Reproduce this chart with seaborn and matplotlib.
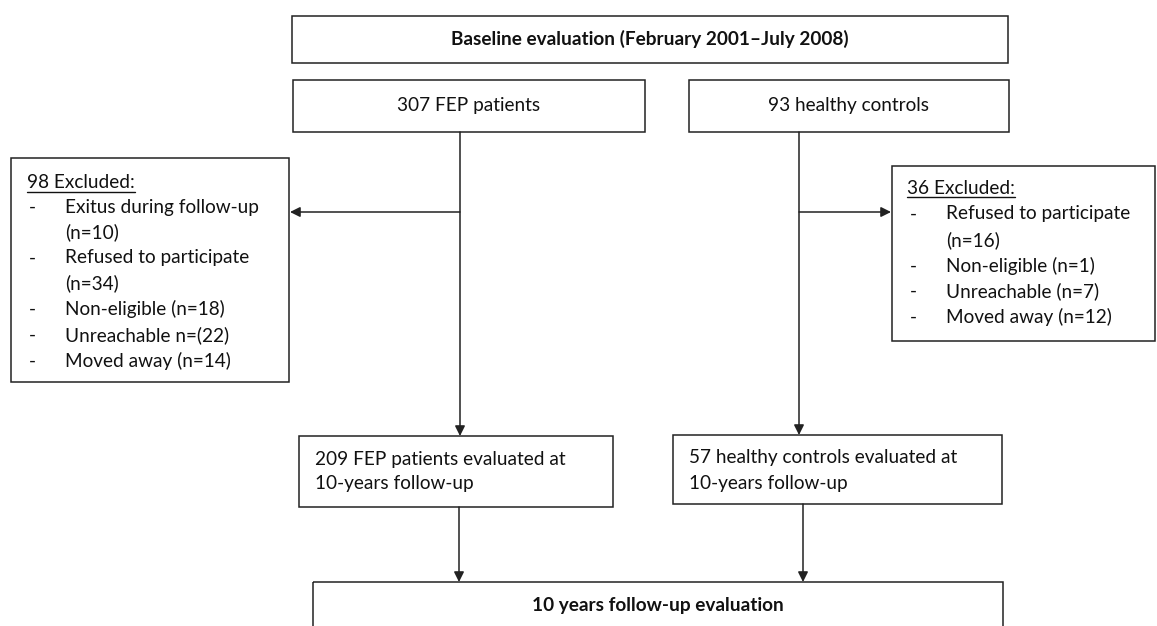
import matplotlib
matplotlib.use("Agg")
import matplotlib.pyplot as plt
from matplotlib.patches import Rectangle
import seaborn as sns

# Flow numbers
baseline_period = "February 2001\u2013July 2008"
n_fep_baseline = 307
n_hc_baseline = 93
n_fep_followup = 209
n_hc_followup = 57

fep_excl_reasons = ["Exitus during follow-up", "Refused to participate", "Non-eligible",
                    "Unreachable", "Moved away"]
fep_excl_counts = [10, 34, 18, 22, 14]
hc_excl_reasons = ["Refused to participate", "Non-eligible", "Unreachable", "Moved away"]
hc_excl_counts = [16, 1, 7, 12]

sns.set_theme(style="white")
plt.rcParams["font.family"] = ["Lato", "DejaVu Sans"]

W, H = 1157, 626
fig = plt.figure(figsize=(W / 100, H / 100), dpi=100)
ax = fig.add_axes([0, 0, 1, 1])
ax.set_xlim(0, W)
ax.set_ylim(H, 0)
ax.axis("off")

line_col = "#222222"
txt_col = "#111111"
fs = 13.7


def box(x0, y0, x1, y1):
    ax.add_patch(Rectangle((x0, y0), x1 - x0, y1 - y0, fill=False,
                           edgecolor=line_col, linewidth=1.1))


def arrow(x0, y0, x1, y1):
    ax.annotate("", xy=(x1, y1), xytext=(x0, y0),
                arrowprops=dict(arrowstyle="-|>", color=line_col, lw=1.1,
                                mutation_scale=15, shrinkA=0, shrinkB=0))


def excl_box(x0, y0, x1, y1, total, reasons, counts, hx, hy, dash_x, text_x, ys, wrap):
    box(x0, y0, x1, y1)
    t = ax.text(hx, hy, f"{total} Excluded:", fontsize=fs, color=txt_col, va="center", ha="left")
    fig.canvas.draw()
    bb = t.get_window_extent().transformed(ax.transData.inverted())
    ax.plot([bb.x0, bb.x1], [hy + 9, hy + 9], color=txt_col, lw=1.0)
    i = 0
    for r, c in zip(reasons, counts):
        ax.text(dash_x, ys[i], "-", fontsize=fs, color=txt_col, va="center", ha="left")
        label = r
        if r == "Unreachable" and total == 98:
            cnt = f"n=({c})"
        else:
            cnt = f"(n={c})"
        if r in wrap:
            ax.text(text_x, ys[i], label, fontsize=fs, color=txt_col, va="center", ha="left")
            i += 1
            ax.text(text_x, ys[i], cnt, fontsize=fs, color=txt_col, va="center", ha="left")
        else:
            ax.text(text_x, ys[i], f"{label} {cnt}", fontsize=fs, color=txt_col,
                    va="center", ha="left")
        i += 1


# top box
box(292, 16, 1008, 63)
ax.text(650, 39, f"Baseline evaluation ({baseline_period})", fontsize=fs,
        fontweight="bold", color=txt_col, ha="center", va="center")

# baseline groups
box(293, 80, 645, 132)
ax.text(469, 106, f"{n_fep_baseline} FEP patients", fontsize=fs, color=txt_col,
        ha="center", va="center")
box(689, 80, 1009, 132)
ax.text(849, 106, f"{n_hc_baseline} healthy controls", fontsize=fs, color=txt_col,
        ha="center", va="center")

# exclusions
excl_box(11, 158, 289, 382, sum(fep_excl_counts), fep_excl_reasons, fep_excl_counts,
         27, 183, 29, 65, [207, 232, 258, 283, 309, 335, 361],
         ["Exitus during follow-up", "Refused to participate"])
excl_box(892, 166, 1155, 341, sum(hc_excl_counts), hc_excl_reasons, hc_excl_counts,
         907, 188, 910, 946, [214, 240, 266, 291, 317],
         ["Refused to participate"])

# connectors
arrow(460, 132, 460, 436)
arrow(460, 212, 290, 212)
arrow(799, 132, 799, 435)
arrow(799, 212, 891, 212)

# follow-up boxes
box(299, 436, 613, 507)
ax.text(315, 459, f"{n_fep_followup} FEP patients evaluated at", fontsize=fs,
        color=txt_col, ha="left", va="center")
ax.text(315, 484, "10-years follow-up", fontsize=fs, color=txt_col, ha="left", va="center")
box(673, 435, 1002, 504)
ax.text(689, 457, f"{n_hc_followup} healthy controls evaluated at", fontsize=fs,
        color=txt_col, ha="left", va="center")
ax.text(689, 483, "10-years follow-up", fontsize=fs, color=txt_col, ha="left", va="center")

arrow(459, 507, 459, 582)
arrow(803, 504, 803, 582)

# final box (cut off at the bottom)
box(313, 582, 1003, 700)
ax.text(658, 605, "10 years follow-up evaluation", fontsize=fs, fontweight="bold",
        color=txt_col, ha="center", va="center")

fig.savefig("out.png", dpi=100, facecolor="white")
